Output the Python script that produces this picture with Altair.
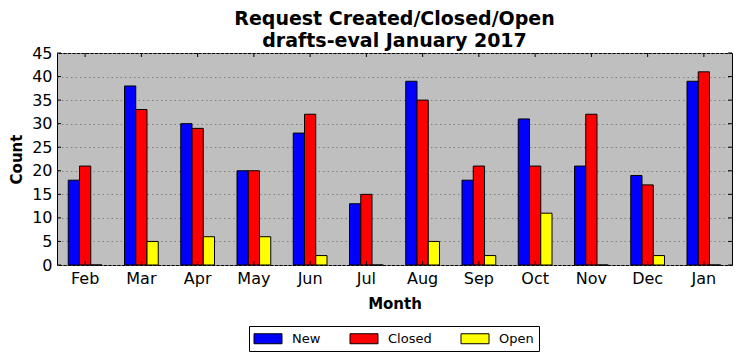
import altair as alt
import pandas as pd

months = ["Feb", "Mar", "Apr", "May", "Jun", "Jul", "Aug", "Sep", "Oct", "Nov", "Dec", "Jan"]
new_vals = [18, 38, 30, 20, 28, 13, 39, 18, 31, 21, 19, 39]
closed_vals = [21, 33, 29, 20, 32, 15, 35, 21, 21, 32, 17, 41]
open_vals = [0, 5, 6, 6, 2, 0, 5, 2, 11, 0, 2, 0]
series = ["New", "Closed", "Open"]
colors = ["#0000ff", "#ff0000", "#ffff00"]
yticks = [0, 5, 10, 15, 20, 25, 30, 35, 40, 45]

rows = []
for i, m in enumerate(months):
    for s, vals in zip(series, [new_vals, closed_vals, open_vals]):
        rows.append({"Month": m, "Series": s, "Count": vals[i]})
df = pd.DataFrame(rows)

W, H = 675, 212
FONT = "DejaVu Sans"
xscale = alt.Scale(domain=months, paddingInner=0.4, paddingOuter=0.2)
yscale = alt.Scale(domain=[0, 45], nice=False, zero=True)
xaxis = alt.Axis(title="Month", labelAngle=0, labelPadding=5, titlePadding=10)
yaxis = alt.Axis(title="Count", values=yticks, grid=True, gridColor="#808080",
                 gridDash=[1.5, 3], gridWidth=1, labelPadding=5, titlePadding=7)

bars = alt.Chart(df).mark_bar(stroke="black", strokeWidth=1, opacity=1).encode(
    x=alt.X("Month:N", sort=months, scale=xscale, axis=xaxis),
    xOffset=alt.XOffset("Series:N", sort=series,
                        scale=alt.Scale(domain=series, paddingInner=0, paddingOuter=0)),
    y=alt.Y("Count:Q", scale=yscale, axis=yaxis),
    color=alt.Color("Series:N", sort=series,
                    scale=alt.Scale(domain=series, range=colors),
                    legend=alt.Legend(title=None, orient="none", legendX=192, legendY=273,
                                      direction="horizontal",
                                      symbolType="M-1.07,-0.714L2.93,-0.714L2.93,0.714L-1.07,0.714Z",
                                      symbolSize=196, symbolStrokeColor="black",
                                      symbolStrokeWidth=1, symbolOpacity=1,
                                      labelFont=FONT, labelFontSize=13, labelColor="black",
                                      strokeColor="black", fillColor="white", padding=5,
                                      columnPadding=27, labelOffset=23, cornerRadius=0)),
)

tdf = pd.DataFrame({"Count": yticks})
mdf = pd.DataFrame({"Month": months})

ytl = alt.Chart(tdf).mark_rule(color="black", strokeWidth=1).encode(
    y=alt.Y("Count:Q", scale=yscale, axis=yaxis), x=alt.value(0), x2=alt.value(4))
ytr = alt.Chart(tdf).mark_rule(color="black", strokeWidth=1).encode(
    y=alt.Y("Count:Q", scale=yscale, axis=yaxis), x=alt.value(W - 4), x2=alt.value(W))
xtb = alt.Chart(mdf).mark_rule(color="black", strokeWidth=1).encode(
    x=alt.X("Month:N", sort=months, scale=xscale, axis=xaxis, bandPosition=0.5),
    y=alt.value(H - 4), y2=alt.value(H))
xtt = alt.Chart(mdf).mark_rule(color="black", strokeWidth=1).encode(
    x=alt.X("Month:N", sort=months, scale=xscale, axis=xaxis, bandPosition=0.5),
    y=alt.value(0), y2=alt.value(4))

chart = alt.layer(bars, ytl, ytr, xtb, xtt).properties(
    width=W, height=H,
    background="white",
    autosize=alt.AutoSizeParams(type="none"),
    padding={"left": 49, "top": 45, "right": 1, "bottom": 88},
    title=alt.TitleParams(["Request Created/Closed/Open", "drafts-eval January 2017"],
                          font=FONT, fontSize=19, fontWeight="bold", color="black",
                          anchor="middle", offset=2, dy=8, lineHeight=22),
).configure_view(
    fill="#bfbfbf", stroke="black", strokeWidth=1
).configure_axis(
    labelFont=FONT, labelFontSize=16, labelColor="black",
    titleFont=FONT, titleFontSize=15, titleFontWeight="bold", titleColor="black",
    domain=False, ticks=False
)

chart.save("out.html", embed_options={"renderer": "svg", "actions": False})
